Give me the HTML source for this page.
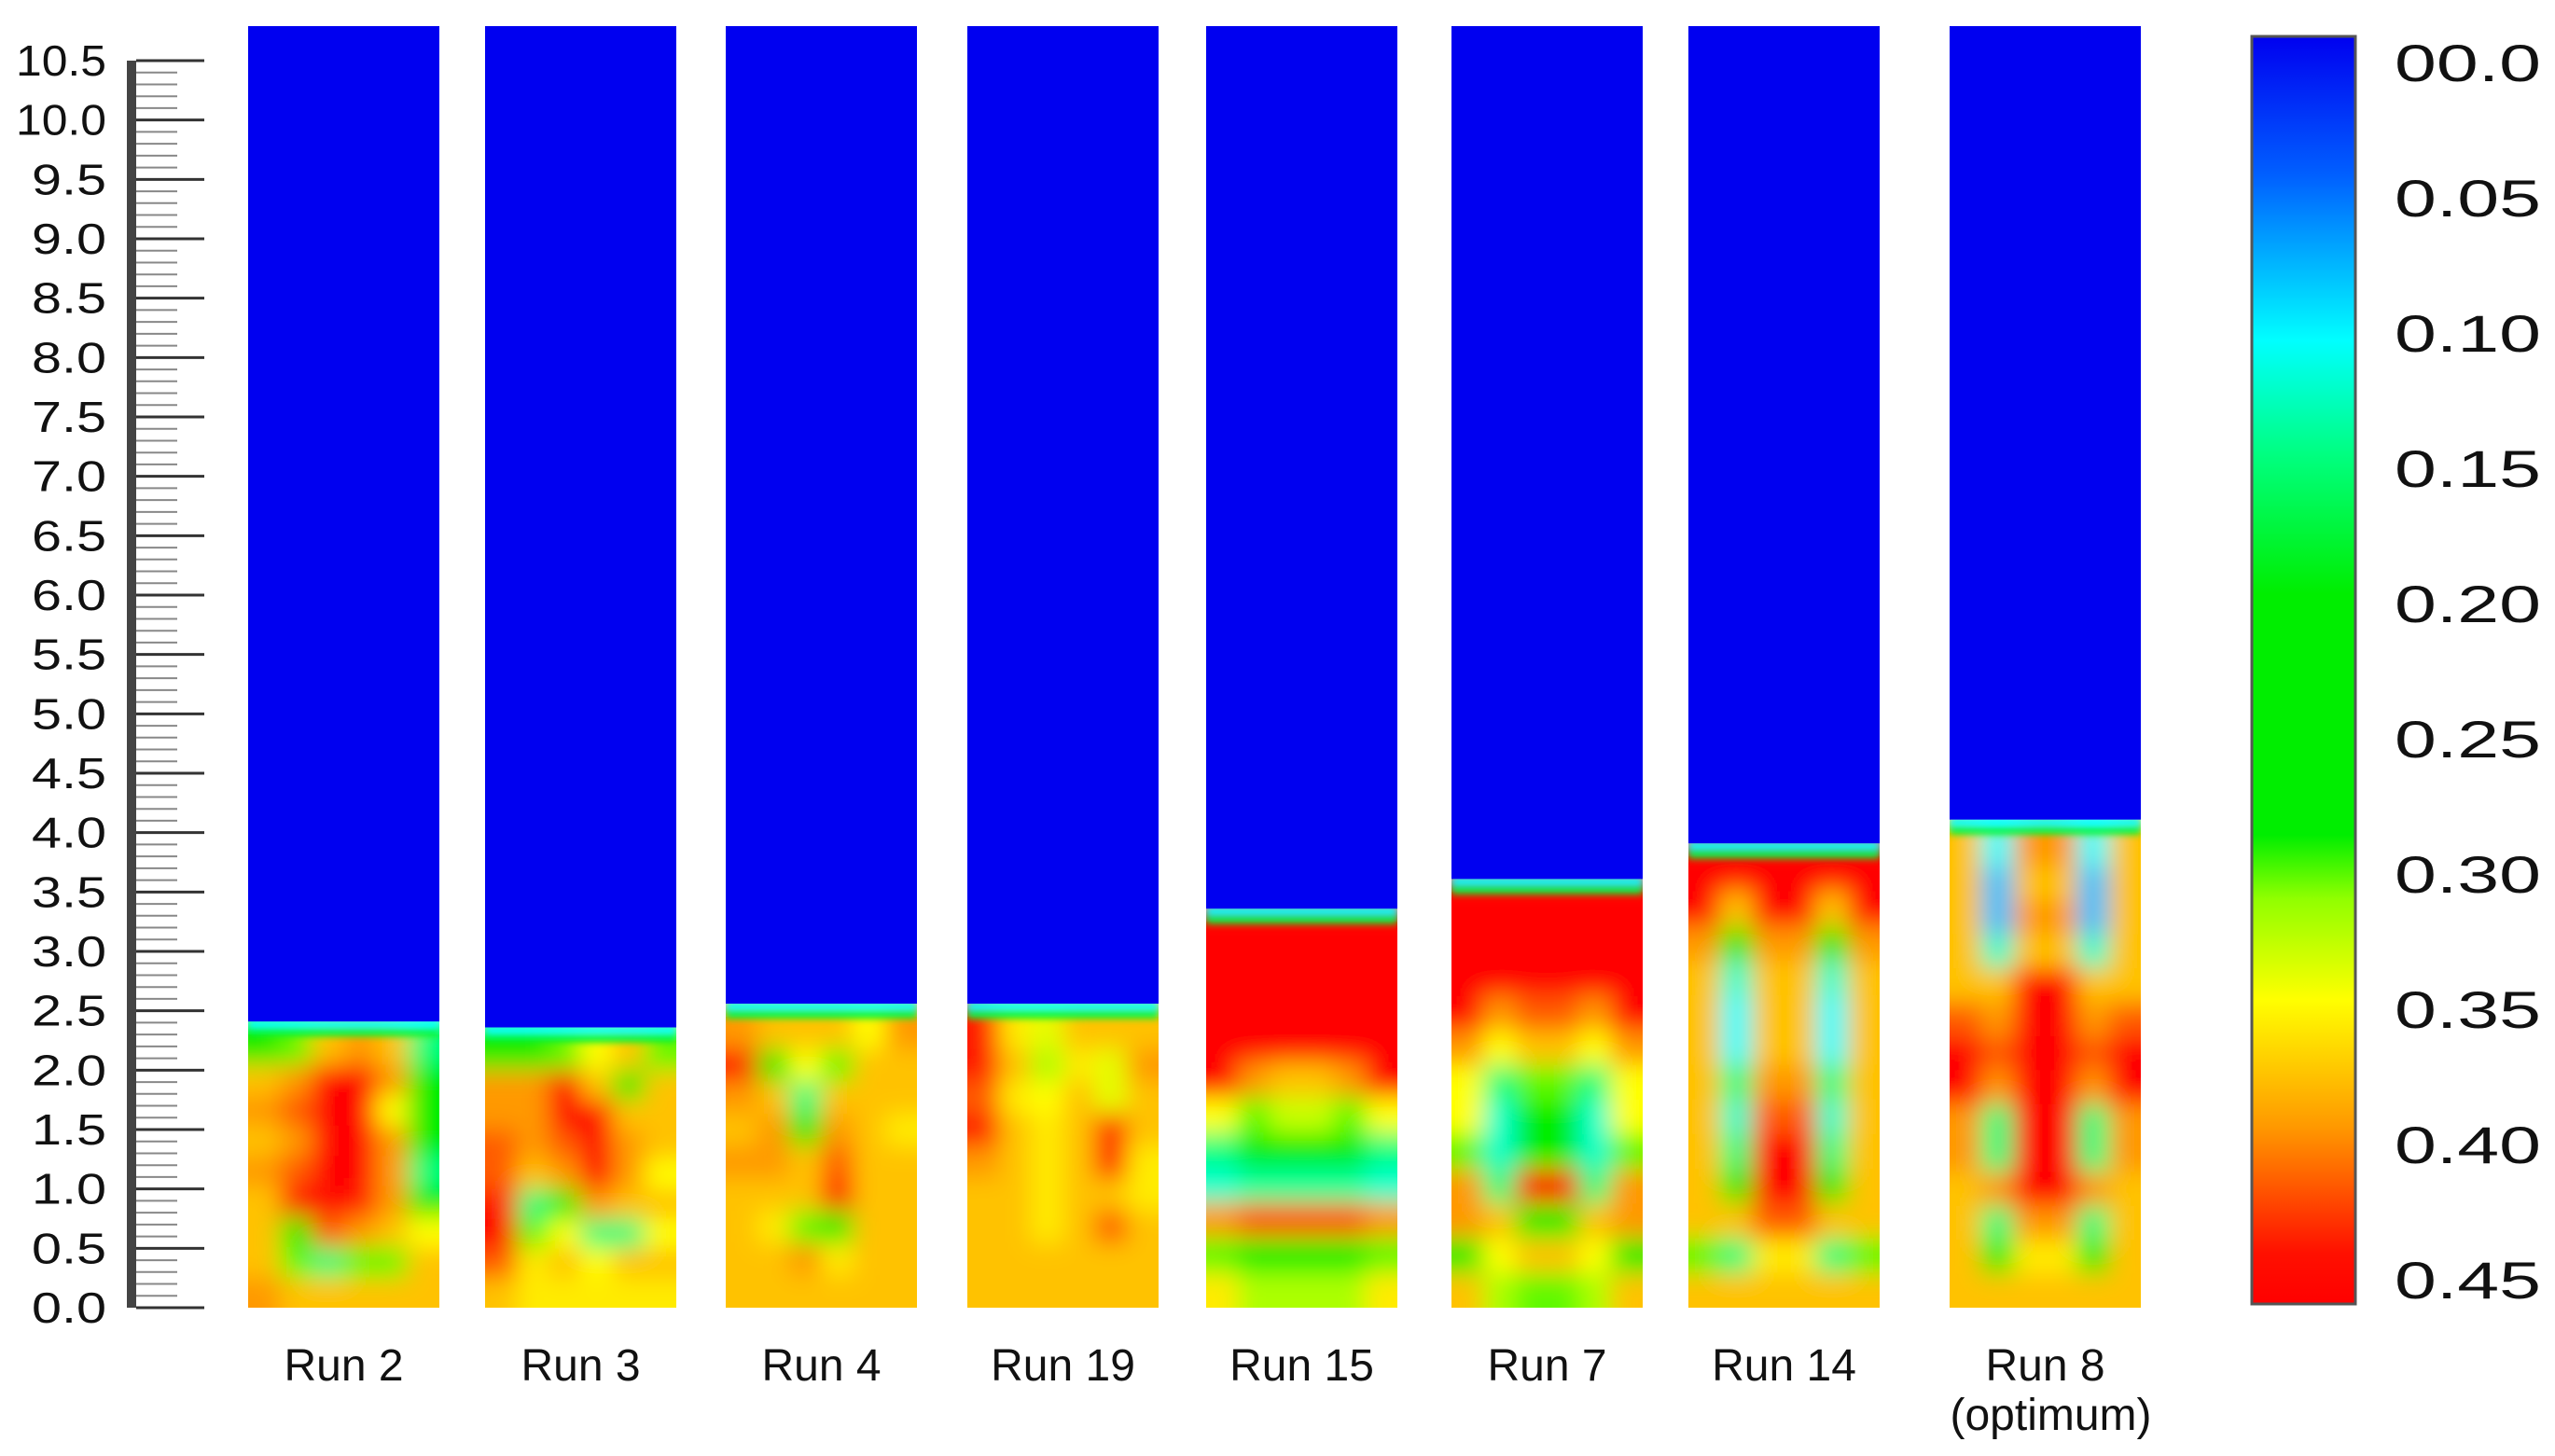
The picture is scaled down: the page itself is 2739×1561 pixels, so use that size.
<!DOCTYPE html>
<html><head><meta charset="utf-8"><style>
html,body{margin:0;padding:0;background:#fff}
svg{display:block}
text{font-family:"Liberation Sans",sans-serif;fill:#111}
</style></head><body>
<svg id="chart" width="2739" height="1561" viewBox="0 0 2739 1561" xmlns="http://www.w3.org/2000/svg">
<defs>
<filter id="blur" x="-20%" y="-20%" width="140%" height="140%"><feGaussianBlur stdDeviation="13"/></filter>
<filter id="blur2" x="-20%" y="-100%" width="140%" height="300%"><feGaussianBlur stdDeviation="4"/></filter>
<linearGradient id="cbgrad" x1="0" y1="0" x2="0" y2="1">
<stop offset="0" stop-color="#0000f0"/><stop offset="0.11" stop-color="#0060ff"/>
<stop offset="0.24" stop-color="#00ffff"/><stop offset="0.33" stop-color="#00ff80"/>
<stop offset="0.44" stop-color="#00ee00"/><stop offset="0.63" stop-color="#00ee00"/>
<stop offset="0.68" stop-color="#90ff00"/><stop offset="0.76" stop-color="#ffff00"/>
<stop offset="0.86" stop-color="#ff9900"/><stop offset="0.96" stop-color="#ff1000"/>
<stop offset="1" stop-color="#ff0000"/></linearGradient>
</defs>
<g id="axis"></g>
<g id="panels"></g>
<g id="cbar"></g>
</svg>
<script>
const NS='http://www.w3.org/2000/svg';
const yTicks=['0.0','0.5','1.0','1.5','2.0','2.5','3.0','3.5','4.0','4.5','5.0','5.5','6.0','6.5','7.0','7.5','8.0','8.5','9.0','9.5','10.0','10.5'];
const runNames=['Run 2','Run 3','Run 4','Run 19','Run 15','Run 7','Run 14','Run 8'];
const bedHeights=[2.3,2.25,2.45,2.45,3.25,3.5,3.8,4.0];
const cbLabels=['00.0','0.05','0.10','0.15','0.20','0.25','0.30','0.35','0.40','0.45'];
const run2=[[20,30,38,40,38,15],[38,40,45,45,40,25],[40,42,45,45,35,20],[38,40,45,45,40,25],[40,42,45,45,40,15],[38,44,45,44,40,20],[38,25,42,40,38,35],[38,30,15,30,30,38],[40,38,38,38,38,38]];
const run3=[[20,25,30,35,38,30],[40,40,45,38,20,38],[40,40,45,45,38,38],[42,40,42,45,40,38],[42,38,40,45,40,35],[44,15,20,40,38,38],[45,30,35,15,15,35],[42,36,38,35,38,38],[38,36,36,36,36,36]];
const run4=[[40,38,38,38,35,40],[44,20,35,30,38,38],[40,38,15,38,38,38],[38,40,20,40,38,36],[40,40,38,42,38,38],[38,38,38,44,38,38],[38,36,30,25,38,38],[38,38,40,36,38,38],[38,38,38,38,38,38]];
const run19=[[44,36,34,38,38,38],[44,38,32,36,34,40],[42,36,35,38,34,38],[44,38,36,38,44,38],[40,38,36,38,44,36],[38,38,36,38,38,36],[38,38,36,38,42,38],[38,38,38,38,38,38],[38,38,38,38,38,38]];
const run15=[[45,45,45,45,45,45],[45,45,45,45,45,45],[45,45,45,45,45,45],[45,45,45,45,45,45],[45,40,38,38,40,45],[35,30,33,33,30,35],[15,20,22,22,20,15],[12,14,14,14,14,12],[40,42,42,42,42,40],[30,25,25,25,25,30],[36,32,32,32,32,36]];
const run7=[[45,45,45,45,45,45],[45,45,45,45,45,45],[45,45,45,45,45,45],[45,40,42,42,40,45],[40,35,38,38,35,40],[35,15,30,30,15,35],[35,12,20,20,12,35],[30,12,22,22,12,30],[40,15,45,45,15,40],[40,38,25,25,38,40],[20,35,38,38,35,20],[38,32,30,30,32,38]];
const run14=[[45,45,45,45,45,45],[45,38,45,45,38,45],[40,20,40,40,20,40],[38,12,38,38,12,38],[38,10,38,38,10,38],[38,10,38,38,10,38],[38,15,40,40,15,38],[38,12,42,42,12,38],[38,15,45,45,15,38],[38,20,45,45,20,38],[38,38,42,42,38,38],[30,15,36,36,15,30],[38,38,38,38,38,38]];
const run8=[[38,10,40,40,10,38],[38,8,38,38,8,38],[38,8,40,40,8,38],[38,12,38,38,12,38],[38,38,45,45,38,38],[42,40,45,45,40,42],[45,42,45,45,42,45],[45,40,45,45,40,45],[40,15,45,45,15,40],[40,15,45,45,15,40],[38,40,45,45,40,38],[38,15,40,40,15,38],[38,20,36,36,20,38],[38,38,38,38,38,38]];
const grids=[run2,run3,run4,run19,run15,run7,run14,run8];

const Y0=1402, PX_PER=(1402-65)/10.5;
function yScale(v){return Y0-v*PX_PER;}
const panelX=[266,520,778,1037,1293,1556,1810,2090], panelW=205, panelTop=28;
function xScale(i){return panelX[i];}
const cmapStops=[[0,[0,0,240]],[5,[0,100,255]],[10,[0,255,255]],[15,[0,255,128]],[20,[0,238,0]],[28,[0,238,0]],[31,[144,255,0]],[35,[255,255,0]],[40,[255,153,0]],[45,[255,0,0]]];
function cmap(v){
  for(let k=1;k<cmapStops.length;k++){
    if(v<=cmapStops[k][0]){const a=cmapStops[k-1],b=cmapStops[k];const t=(v-a[0])/(b[0]-a[0]);
      const c=a[1].map((x,j)=>Math.round(x+(b[1][j]-x)*t));return `rgb(${c})`;}
  }
  return 'rgb(255,0,0)';
}
function mk(tag,attrs,parent){const e=document.createElementNS(NS,tag);for(const k in attrs)e.setAttribute(k,attrs[k]);parent.appendChild(e);return e;}

// axis
const ax=document.getElementById('axis');
const bar=mk('rect',{x:136,y:yScale(10.5),width:10,height:yScale(0)-yScale(10.5),fill:'#444'},ax);


for(let k=0;k<=105;k++){
  const v=k*0.1, y=yScale(v);
  const major=k%5===0;
  const l=mk('line',{x1:146,x2:major?219:190,y1:y,y2:y,stroke:major?'#333':'#888','stroke-width':major?3:2},ax);
  
  
}
yTicks.forEach((t,i)=>{
  const v=parseFloat(t);
  const tx=mk('text',{x:t.length>3?17:114-80,y:yScale(v)+16,'font-size':46,lengthAdjust:'spacingAndGlyphs'},ax);
  tx.textContent=t;
  tx.setAttribute('textLength',t.length>3?97:80);
  
  
});

// panels
const pg=document.getElementById('panels');
grids.forEach((g,i)=>{
  const x=xScale(i), bed=bedHeights[i], yb=yScale(bed);
  const grp=mk('g',{},pg);
  
  
  const cp=mk('clipPath',{id:'cp'+i},grp);
  mk('rect',{x:x,y:panelTop,width:panelW,height:Y0-panelTop},cp);
  const clipG=mk('g',{'clip-path':`url(#cp${i})`},grp);
  mk('rect',{x:x,y:yb,width:panelW,height:Y0-yb,fill:cmap(38)},clipG);
  const bg=mk('g',{filter:'url(#blur)'},clipG);
  const rows=g.length, cols=g[0].length, rh=(Y0-yb)/rows, cw=panelW/cols;
  g.forEach((row,r)=>row.forEach((val,c)=>{
    const cell=mk('rect',{x:x+c*cw-(c===0?30:0),y:yb+r*rh-(r===0?15:0),width:cw+(c===0||c===cols-1?30:0)+1,height:rh+(r===0?15:0)+(r===rows-1?30:0)+1,fill:cmap(val)},bg);
    
    
  }));
  const band=mk('rect',{x:x,y:yb-8,width:panelW,height:10,fill:cmap(18),filter:'url(#blur2)'},clipG);
  
  
  const band2=mk('rect',{x:x,y:yb-16,width:panelW,height:10,fill:cmap(10),filter:'url(#blur2)'},clipG);
  
  
  const fb=mk('rect',{x:x,y:panelTop,width:panelW,height:yb-panelTop-14,fill:'#0000f0'},clipG);
  
  
  const lb=mk('text',{x:x+panelW/2,y:1480,'text-anchor':'middle','font-size':48},grp);
  lb.textContent=runNames[i];
  
  
  if(runNames[i]==='Run 8'){
    const ob=mk('text',{x:x+panelW/2+6,y:1533,'text-anchor':'middle','font-size':48},grp);
    ob.textContent='(optimum)';
    
    
  }
});

// colorbar
const cb=document.getElementById('cbar');
const cr=mk('rect',{x:2414,y:39,width:111,height:1359,fill:'url(#cbgrad)',stroke:'#555','stroke-width':3},cb);


cbLabels.forEach((t,i)=>{
  const y=67+i*(1372-67)/(cbLabels.length-1);
  const tx=mk('text',{x:2567,y:y+20,'font-size':56,textLength:157,lengthAdjust:'spacingAndGlyphs'},cb);
  tx.textContent=t;
  
  
});
</script>
</body></html>
